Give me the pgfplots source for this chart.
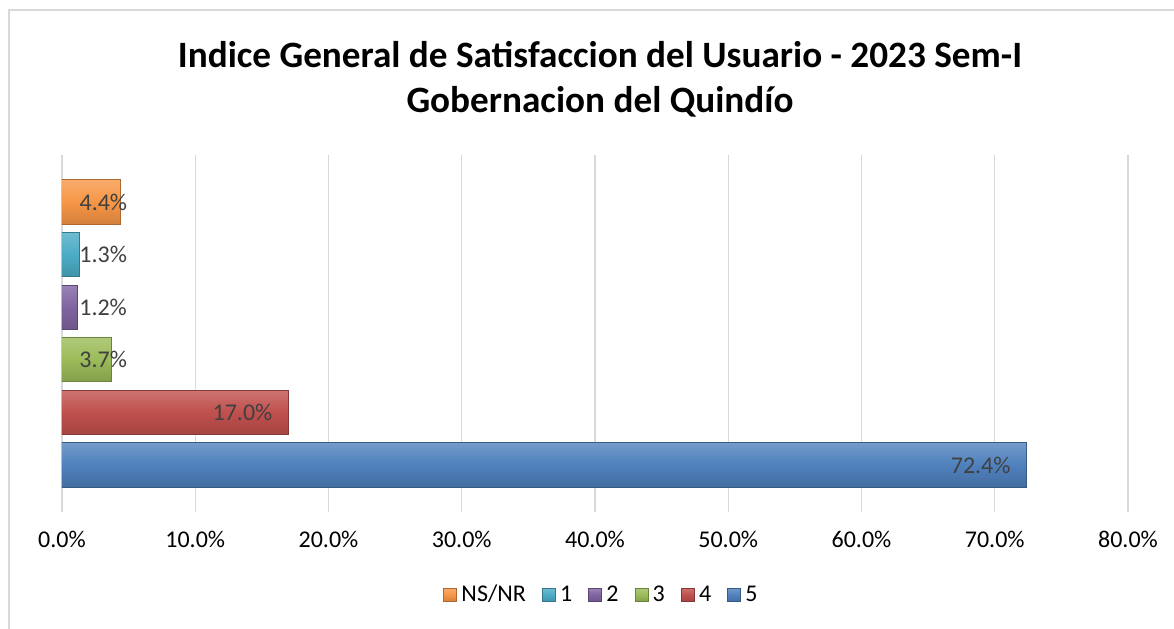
\documentclass[border=0pt]{standalone}
\usepackage{pgfplots}
\pgfplotsset{compat=1.18}
\usepackage{fontspec}
\setmainfont{Carlito}
\definecolor{cOr}{HTML}{F79646}
\definecolor{cTe}{HTML}{4BACC6}
\definecolor{cPu}{HTML}{8064A2}
\definecolor{cGr}{HTML}{9BBB59}
\definecolor{cRe}{HTML}{C0504D}
\definecolor{cBl}{HTML}{4F81BD}
\definecolor{lab}{HTML}{404040}
\definecolor{grd}{HTML}{D9D9D9}
\begin{document}
\begin{tikzpicture}
\useasboundingbox (-31pt,-58pt) rectangle (556pt,256pt);
\draw[grd,line width=0.8pt] (-26.5pt,-70pt) -- (-26.5pt,251pt) -- (570pt,251pt);
\node[font=\bfseries\fontsize{18.6}{22.5}\selectfont,align=center] at (269pt,216.25pt)
  {Indice General de Satisfaccion del Usuario - 2023 Sem-I\\Gobernacion del Quindío};
\begin{axis}[
  at={(0pt,0pt)}, anchor=south west,
  scale only axis, width=533pt, height=178.5pt,
  xmin=0, xmax=80, ymin=-0.895, ymax=5.895,
  xtick={0,10,...,80},
  ytick=\empty,
  xmajorgrids, grid style={grd,line width=0.6pt},
  axis line style={draw=none},
  major tick length=0pt,
  xticklabel={\pgfmathprintnumber[fixed,fixed zerofill,precision=1]{\tick}\%},
  /pgf/number format/assume math mode=true,
  tick label style={font=\fontsize{12}{14}\selectfont, text=black},
  xticklabel style={yshift=-6pt},
  xbar, bar shift=0pt, bar width=0.84,
  nodes near coords={\pgfmathprintnumber[fixed,fixed zerofill,precision=1]{\pgfplotspointmeta}\%},
  nodes near coords style={font=\fontsize{12}{14}\selectfont, text=lab, /pgf/number format/assume math mode=true},
  legend style={at={(0.507,-0.232)}, anchor=center, draw=none, fill=none,
    legend columns=6, font=\fontsize{12}{14}\selectfont,
    /tikz/every even column/.append style={column sep=6pt}},
  legend image code/.code={\fill[#1] (0pt,-3.3pt) rectangle (6.6pt,3.3pt);},
  every axis plot/.append style={line width=0.5pt},
]
\addplot[draw=cOr!70!black, top color=cOr!80!white, bottom color=cOr!85!black, middle color=cOr,
  nodes near coords style={anchor=west, xshift=-24.1pt}]
  coordinates {(4.4,5)};
\addplot[draw=cTe!70!black, top color=cTe!80!white, bottom color=cTe!85!black, middle color=cTe,
  nodes near coords style={anchor=west, xshift=-3.5pt}]
  coordinates {(1.3,4)};
\addplot[draw=cPu!70!black, top color=cPu!80!white, bottom color=cPu!85!black, middle color=cPu,
  nodes near coords style={anchor=west, xshift=-2.9pt}]
  coordinates {(1.2,3)};
\addplot[draw=cGr!70!black, top color=cGr!80!white, bottom color=cGr!85!black, middle color=cGr,
  nodes near coords style={anchor=west, xshift=-19.5pt}]
  coordinates {(3.7,2)};
\addplot[draw=cRe!70!black, top color=cRe!80!white, bottom color=cRe!85!black, middle color=cRe,
  nodes near coords style={anchor=east, xshift=-4.5pt}]
  coordinates {(17.0,1)};
\addplot[draw=cBl!70!black, top color=cBl!80!white, bottom color=cBl!85!black, middle color=cBl,
  nodes near coords style={anchor=east, xshift=-4.5pt}]
  coordinates {(72.4,0)};
\legend{NS/NR,1,2,3,4,5}
\end{axis}
\end{tikzpicture}
\end{document}
